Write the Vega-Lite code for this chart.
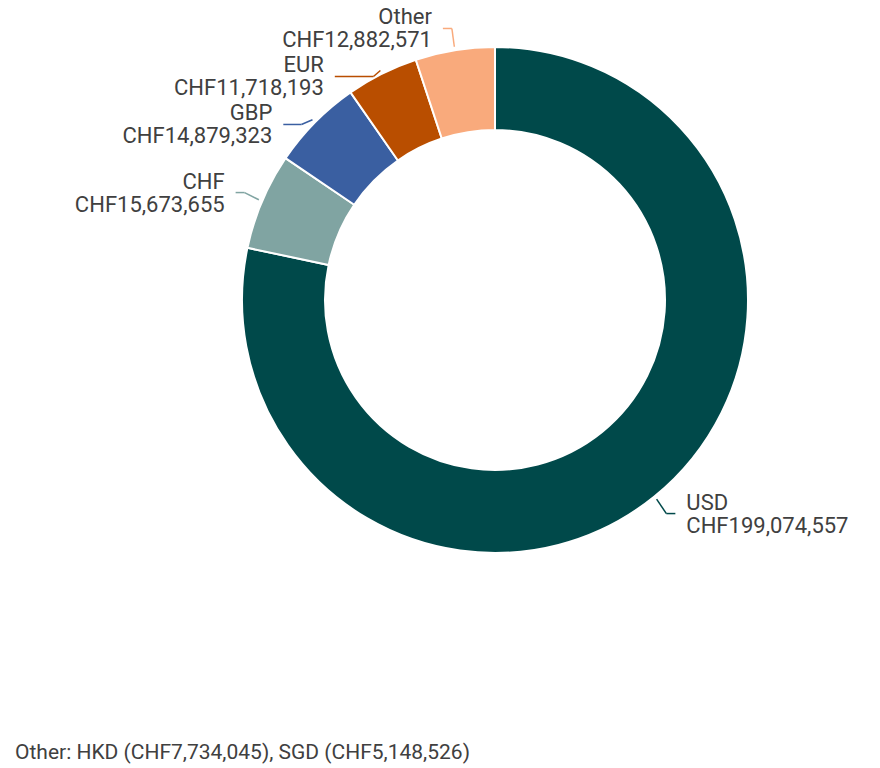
{
  "$schema": "https://vega.github.io/schema/vega-lite/v6.json",
  "width": 600,
  "height": 600,
  "autosize": {"type": "none"},
  "padding": {"left": 195, "top": 0, "right": 85, "bottom": 168},
  "background": "white",
  "config": {"view": {"stroke": null}},
  "title": {
    "text": "Other: HKD (CHF7,734,045), SGD (CHF5,148,526)",
    "orient": "bottom",
    "anchor": "start",
    "frame": "group",
    "offset": 159,
    "baseline": "alphabetic",
    "dx": -180,
    "font": "Roboto",
    "fontSize": 21,
    "fontWeight": "normal",
    "color": "#404040"
  },
  "data": {
    "values": [
      {"currency": "USD", "value": 199074557},
      {"currency": "CHF", "value": 15673655},
      {"currency": "GBP", "value": 14879323},
      {"currency": "EUR", "value": 11718193},
      {"currency": "Other", "value": 12882571}
    ]
  },
  "transform": [
    {"window": [{"op": "row_number", "as": "rank"}, {"op": "sum", "field": "value", "as": "cum"}], "frame": [null, 0]},
    {"joinaggregate": [{"op": "sum", "field": "value", "as": "total"}]},
    {"calculate": "2*PI*(datum.cum - datum.value/2)/datum.total", "as": "mid"},
    {"calculate": "sin(datum.mid) < 0 ? -1 : 1", "as": "side"},
    {"calculate": "275*cos(datum.mid)", "as": "ny"},
    {"window": [{"op": "row_number", "as": "pos"}], "groupby": ["side"], "sort": [{"field": "ny", "order": "descending"}]},
    {"calculate": "datum.ny + 48*(datum.pos-1)", "as": "k"},
    {"window": [{"op": "min", "field": "k", "as": "kmin"}], "groupby": ["side"], "sort": [{"field": "ny", "order": "descending"}], "frame": [null, 0]},
    {"calculate": "datum.kmin - 48*(datum.pos-1)", "as": "ly"},
    {"calculate": "256.5*sin(datum.mid)", "as": "p1x"},
    {"calculate": "256.5*cos(datum.mid)", "as": "p1y"},
    {"calculate": "272*sin(datum.mid)", "as": "pmx"},
    {"calculate": "datum.side*max(sqrt(max(0, 275*275 - datum.ly*datum.ly)), abs(datum.pmx) + 9)", "as": "p3x"},
    {"calculate": "datum.p3x + datum.side*11", "as": "lx"},
    {"calculate": "[datum.currency, 'CHF' + format(datum.value, ',')]", "as": "label"}
  ],
  "layer": [
    {
      "mark": {"type": "arc", "outerRadius": 253, "innerRadius": 170, "stroke": "white", "strokeWidth": 2},
      "encoding": {
        "theta": {"field": "value", "type": "quantitative", "stack": true},
        "order": {"field": "rank", "type": "quantitative"},
        "color": {
          "field": "currency",
          "type": "nominal",
          "scale": {"domain": ["USD", "CHF", "GBP", "EUR", "Other"], "range": ["#00494a", "#80a4a2", "#3a5fa1", "#b94e00", "#f9aa7c"]},
          "legend": null
        }
      }
    },
    {
      "mark": {"type": "rule", "strokeWidth": 1.5},
      "encoding": {
        "x": {"field": "p1x", "type": "quantitative", "scale": {"domain": [-300, 300], "nice": false, "zero": false}, "axis": null},
        "y": {"field": "p1y", "type": "quantitative", "scale": {"domain": [-300, 300], "nice": false, "zero": false}, "axis": null},
        "x2": {"field": "pmx"},
        "y2": {"field": "ly"},
        "color": {"field": "currency", "type": "nominal", "legend": null}
      }
    },
    {
      "mark": {"type": "rule", "strokeWidth": 1.5},
      "encoding": {
        "x": {"field": "pmx", "type": "quantitative", "scale": {"domain": [-300, 300], "nice": false, "zero": false}, "axis": null},
        "y": {"field": "ly", "type": "quantitative", "scale": {"domain": [-300, 300], "nice": false, "zero": false}, "axis": null},
        "x2": {"field": "p3x"},
        "color": {"field": "currency", "type": "nominal", "legend": null}
      }
    },
    {
      "transform": [{"filter": "datum.side < 0"}],
      "mark": {"type": "text", "align": "right", "baseline": "middle", "dy": -11, "font": "Roboto", "fontSize": 22, "lineHeight": 23, "color": "#404040"},
      "encoding": {
        "x": {"field": "lx", "type": "quantitative", "scale": {"domain": [-300, 300], "nice": false, "zero": false}, "axis": null},
        "y": {"field": "ly", "type": "quantitative", "scale": {"domain": [-300, 300], "nice": false, "zero": false}, "axis": null},
        "text": {"field": "label"}
      }
    },
    {
      "transform": [{"filter": "datum.side > 0"}],
      "mark": {"type": "text", "align": "left", "baseline": "middle", "dy": -11, "font": "Roboto", "fontSize": 22, "lineHeight": 23, "color": "#404040"},
      "encoding": {
        "x": {"field": "lx", "type": "quantitative", "scale": {"domain": [-300, 300], "nice": false, "zero": false}, "axis": null},
        "y": {"field": "ly", "type": "quantitative", "scale": {"domain": [-300, 300], "nice": false, "zero": false}, "axis": null},
        "text": {"field": "label"}
      }
    }
  ]
}
